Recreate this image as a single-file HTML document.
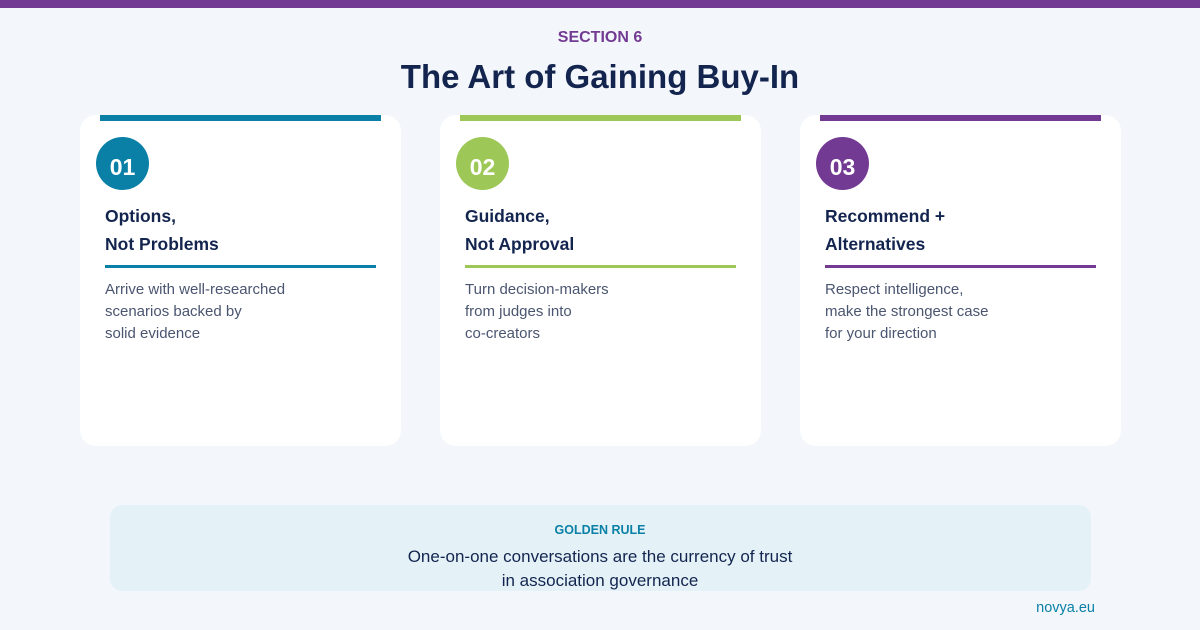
<!DOCTYPE html>
<html><head><meta charset="utf-8"><style>
*{margin:0;padding:0;box-sizing:border-box}
body{width:1200px;height:630px;background:#f3f7fb;font-family:"Liberation Sans",sans-serif;position:relative;overflow:hidden;color:#13254f}
.abs{position:absolute}
.top{left:0;top:0;width:1200px;height:8px;background:#733a93}
.sec{left:0;width:1200px;top:29px;text-align:center;font-size:16px;font-weight:bold;color:#733a93}
.h1{left:0;width:1200px;top:58px;text-align:center;font-size:33px;font-weight:bold;color:#13254f}
.card{top:115px;width:321px;height:331px;background:#fff;border-radius:16px}
.bar{top:0;left:20px;width:281px;height:6px}
.circ{left:16px;top:22px;width:53px;height:53px;border-radius:50%;color:#fff;font-weight:bold;font-size:23px;line-height:61px;text-align:center}
.tt{left:25px;top:87px;font-size:17.5px;font-weight:bold;line-height:28px;color:#13254f}
.dv{left:25px;top:150px;width:271px;height:3px}
.bd{left:25px;top:164px;font-size:15px;line-height:22px;color:#4a5570}
.gold{left:110px;top:505px;width:981px;height:86px;background:#e4f2f8;border-radius:12px}
</style></head><body>
<div class="abs top"></div>
<div class="abs sec">SECTION 6</div>
<div class="abs h1">The Art of Gaining Buy-In</div>

<div class="abs card" style="left:80px">
<div class="abs bar" style="background:#0a80a6"></div>
<div class="abs circ" style="background:#0a80a6">01</div>
<div class="abs tt">Options,<br>Not Problems</div>
<div class="abs dv" style="background:#0a80a6"></div>
<div class="abs bd">Arrive with well-researched<br>scenarios backed by<br>solid evidence</div>
</div>
<div class="abs card" style="left:440px">
<div class="abs bar" style="background:#9dc857"></div>
<div class="abs circ" style="background:#9dc857">02</div>
<div class="abs tt">Guidance,<br>Not Approval</div>
<div class="abs dv" style="background:#9dc857"></div>
<div class="abs bd">Turn decision-makers<br>from judges into<br>co-creators</div>
</div>
<div class="abs card" style="left:800px">
<div class="abs bar" style="background:#733a93"></div>
<div class="abs circ" style="background:#733a93">03</div>
<div class="abs tt">Recommend +<br>Alternatives</div>
<div class="abs dv" style="background:#733a93"></div>
<div class="abs bd">Respect intelligence,<br>make the strongest case<br>for your direction</div>
</div>

<div class="abs gold"></div>
<div class="abs" style="left:0;width:1200px;top:523px;text-align:center;font-size:12.5px;font-weight:bold;color:#0a80a6">GOLDEN RULE</div>
<div class="abs" style="left:0;width:1200px;top:545px;text-align:center;font-size:17px;line-height:24px;color:#13254f">One-on-one conversations are the currency of trust<br>in association governance</div>
<div class="abs" style="left:1000px;width:95px;top:600px;text-align:right;font-size:14.5px;color:#0a80a6">novya.eu</div>
</body></html>
